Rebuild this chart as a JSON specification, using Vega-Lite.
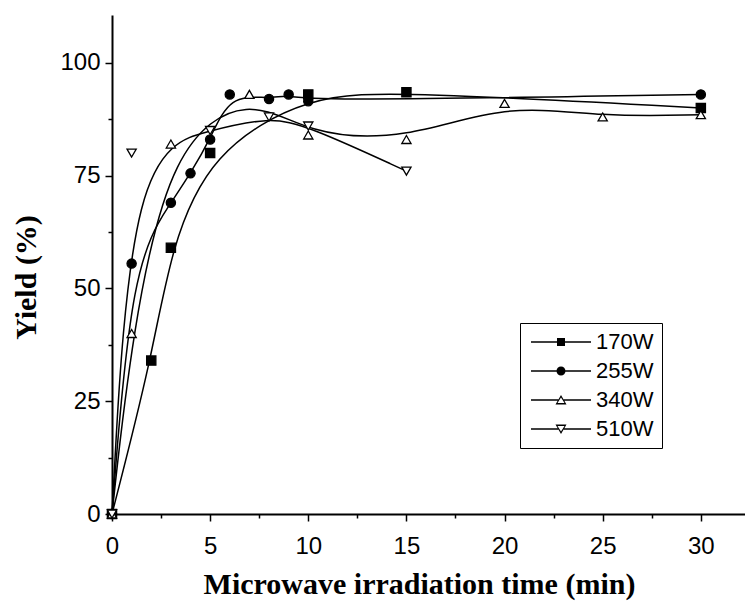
{
  "$schema": "https://vega.github.io/schema/vega-lite/v6.json",
  "autosize": {"type": "none"},
  "padding": {"left": 112, "top": 15, "right": 0, "bottom": 91},
  "width": 633,
  "height": 499,
  "background": "white",
  "config": {
    "view": {"stroke": null},
    "axis": {
      "grid": false,
      "domainColor": "black",
      "domainWidth": 2,
      "tickColor": "black",
      "tickWidth": 1.5,
      "labelColor": "black",
      "titleColor": "black",
      "labelFont": "Liberation Sans",
      "labelFontSize": 24,
      "titleFont": "Liberation Serif",
      "titleFontSize": 30,
      "titleFontWeight": "bold",
      "labelFlush": false,
      "labelOverlap": false
    }
  },
  "data": {
    "values": [
      {"time": 0, "yield": 0, "power": "170W"},
      {"time": 2, "yield": 34, "power": "170W"},
      {"time": 3, "yield": 59, "power": "170W"},
      {"time": 5, "yield": 80, "power": "170W"},
      {"time": 10, "yield": 93, "power": "170W"},
      {"time": 15, "yield": 93.5, "power": "170W"},
      {"time": 30, "yield": 90, "power": "170W"},
      {"time": 0, "yield": 0, "power": "255W"},
      {"time": 1, "yield": 55.5, "power": "255W"},
      {"time": 3, "yield": 69, "power": "255W"},
      {"time": 4, "yield": 75.5, "power": "255W"},
      {"time": 5, "yield": 83, "power": "255W"},
      {"time": 6, "yield": 93, "power": "255W"},
      {"time": 8, "yield": 92, "power": "255W"},
      {"time": 9, "yield": 93, "power": "255W"},
      {"time": 10, "yield": 91.5, "power": "255W"},
      {"time": 30, "yield": 93, "power": "255W"},
      {"time": 0, "yield": 0, "power": "340W"},
      {"time": 1, "yield": 40, "power": "340W"},
      {"time": 3, "yield": 82, "power": "340W"},
      {"time": 7, "yield": 93, "power": "340W"},
      {"time": 10, "yield": 84, "power": "340W"},
      {"time": 15, "yield": 83, "power": "340W"},
      {"time": 20, "yield": 91, "power": "340W"},
      {"time": 25, "yield": 88, "power": "340W"},
      {"time": 30, "yield": 88.5, "power": "340W"},
      {"time": 0, "yield": 0, "power": "510W"},
      {"time": 1, "yield": 80, "power": "510W"},
      {"time": 5, "yield": 85, "power": "510W"},
      {"time": 8, "yield": 88, "power": "510W"},
      {"time": 10, "yield": 86, "power": "510W"},
      {"time": 15, "yield": 76, "power": "510W"}
    ]
  },
  "encoding": {
    "x": {
      "field": "time",
      "type": "quantitative",
      "scale": {"domain": [0, 32.25], "nice": false, "zero": false},
      "axis": {
        "title": "Microwave irradiation time (min)",
        "values": [0, 2.5, 5, 7.5, 10, 12.5, 15, 17.5, 20, 22.5, 25, 27.5, 30],
        "labelExpr": "datum.value % 5 === 0 ? datum.label : ''",
        "tickSize": {"condition": {"test": "datum.value % 5 === 0", "value": 7}, "value": 4},
        "labelPadding": 13,
        "titlePadding": 11,
        "titleX": 307
      }
    },
    "y": {
      "field": "yield",
      "type": "quantitative",
      "scale": {"domain": [0, 110.6], "nice": false},
      "axis": {
        "title": "Yield (%)",
        "values": [0, 12.5, 25, 37.5, 50, 62.5, 75, 87.5, 100],
        "labelExpr": "datum.value % 25 === 0 ? datum.label : ''",
        "tickSize": {"condition": {"test": "datum.value % 25 === 0", "value": 7}, "value": 4},
        "labelPadding": 5,
        "titlePadding": 18,
        "titleY": 262
      }
    }
  },
  "resolve": {"scale": {"shape": "independent", "fill": "independent"}},
  "layer": [
    {
      "mark": {"type": "line", "interpolate": "basis", "color": "black", "strokeWidth": 1.5},
      "encoding": {"detail": {"field": "power"}}
    },
    {
      "mark": {"type": "point", "size": 85, "stroke": "black", "strokeWidth": 1.3, "opacity": 1},
      "encoding": {
        "shape": {
          "field": "power",
          "type": "nominal",
          "scale": {"domain": ["170W", "255W", "340W", "510W"], "range": ["square", "circle", "triangle-up", "triangle-down"]},
          "legend": null
        },
        "fill": {
          "field": "power",
          "type": "nominal",
          "scale": {"domain": ["170W", "255W", "340W", "510W"], "range": ["black", "black", "white", "white"]},
          "legend": null
        }
      }
    },
    {
      "transform": [{"filter": "false"}],
      "mark": {"type": "point", "filled": true, "color": "black", "opacity": 1, "strokeWidth": 0},
      "encoding": {
        "shape": {
          "field": "power",
          "type": "nominal",
          "scale": {
            "domain": ["170W", "255W", "340W", "510W"],
            "range": [
              "M-6,-0.15H6V0.15H-6Z M-0.8,-0.8H0.8V0.8H-0.8Z",
              "M-6,-0.15H6V0.15H-6Z M0.9,0A0.9,0.9,0,1,1,-0.9,0A0.9,0.9,0,1,1,0.9,0Z",
              "M-6,-0.15H-0.55V0.15H-6Z M0.55,-0.15H6V0.15H0.55Z M0,-1L1.1,0.9H-1.1Z M0,-0.5L-0.7,0.62H0.7Z",
              "M-6,-0.15H-0.55V0.15H-6Z M0.55,-0.15H6V0.15H0.55Z M0,1L-1.1,-0.9H1.1Z M0,0.5L0.7,-0.62H-0.7Z"
            ]
          },
          "legend": {
            "title": null,
            "orient": "none",
            "legendX": 408,
            "legendY": 308,
            "padding": 8,
            "rowPadding": 7,
            "symbolSize": 100,
            "symbolOffset": 22,
            "labelOffset": 24,
            "labelFont": "Liberation Sans",
            "labelFontSize": 22,
            "labelColor": "black",
            "strokeColor": "black",
            "fillColor": "white",
            "symbolFillColor": "black",
            "symbolStrokeWidth": 0,
            "symbolOpacity": 1
          }
        }
      }
    }
  ]
}
